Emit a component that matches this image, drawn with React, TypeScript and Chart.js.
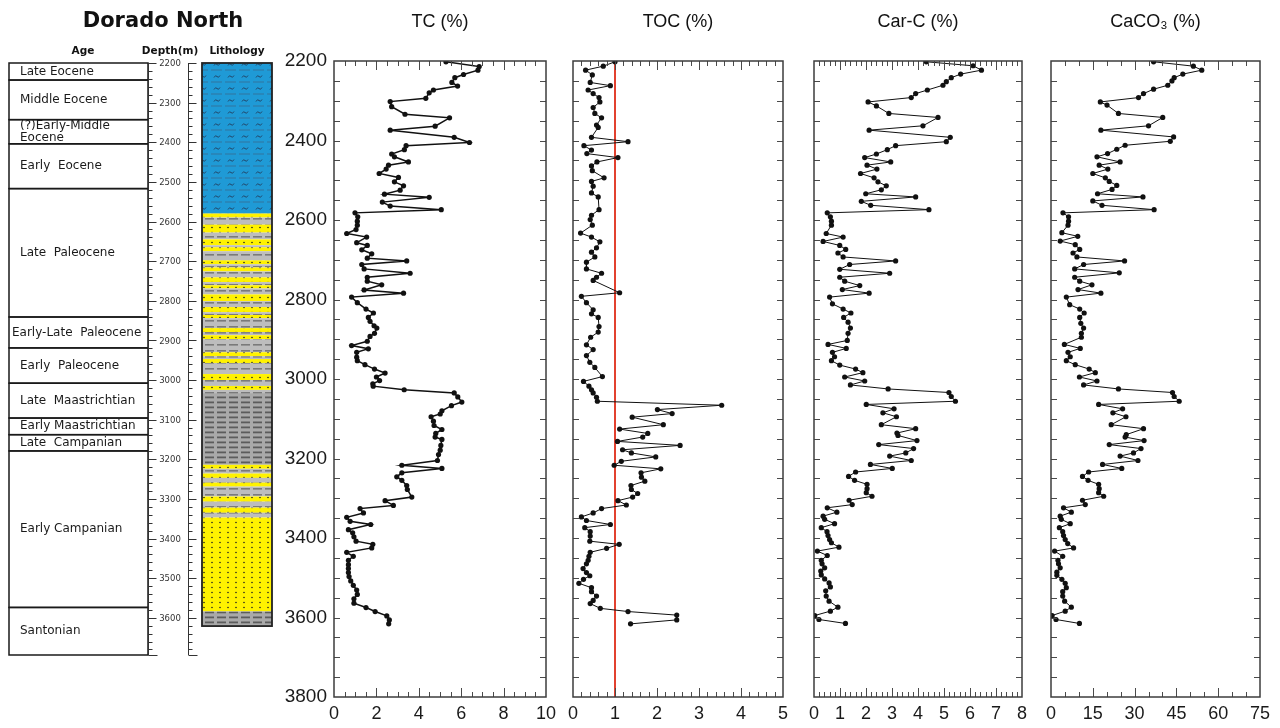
import React, { useEffect, useRef } from 'react';
import { Chart, registerables } from 'chart.js';
Chart.register(...registerables);

const SANS = "'Liberation Sans', Arial, sans-serif";
const DJ = "'DejaVu Sans', sans-serif";
const H = 728;
const DEPTH_MIN = 2200;
const DEPTH_MAX = 3800;

// ---------- stratigraphic column ----------
const ageNames = ['Late Eocene', 'Middle Eocene', '(?)Early-Middle\nEocene', 'Early  Eocene', 'Late  Paleocene', 'Early-Late  Paleocene', 'Early  Paleocene', 'Late  Maastrichtian', 'Early Maastrichtian', 'Late  Campanian', 'Early Campanian', 'Santonian'];
const ageTops = [2200, 2243, 2343, 2404, 2517, 2841, 2919, 3008, 3096, 3138, 3179, 3574];
const ageBases = [2243, 2343, 2404, 2517, 2841, 2919, 3008, 3096, 3138, 3179, 3574, 3694];
const columnDepthLabels = [2200, 2300, 2400, 2500, 2600, 2700, 2800, 2900, 3000, 3100, 3200, 3300, 3400, 3500, 3600];

const lithTops = [2200, 2580, 2590, 2608, 2628, 2645, 2660, 2665, 2675, 2698, 2708, 2716, 2726, 2741, 2753, 2761, 2769, 2784, 2801, 2816, 2829, 2836, 2844, 2869, 2879, 2887, 2897, 2930, 2940, 2947, 2957, 2985, 3000, 3015, 3025, 3033, 3214, 3224, 3236, 3247, 3259, 3269, 3294, 3307, 3322, 3335, 3347, 3584];
const lithBases = [2580, 2590, 2608, 2628, 2645, 2660, 2665, 2675, 2698, 2708, 2716, 2726, 2741, 2753, 2761, 2769, 2784, 2801, 2816, 2829, 2836, 2844, 2869, 2879, 2887, 2897, 2930, 2940, 2947, 2957, 2985, 3000, 3015, 3025, 3033, 3214, 3224, 3236, 3247, 3259, 3269, 3294, 3307, 3322, 3335, 3347, 3584, 3621];
const lithTypes = ['marl', 'sand', 'shale', 'sand', 'shale', 'sand', 'shale', 'sand', 'shale', 'sand', 'shale', 'sand', 'shale', 'sand', 'shale', 'sand', 'shale', 'sand', 'shale', 'sand', 'shale', 'sand', 'shale', 'sand', 'shale', 'sand', 'shale', 'sand', 'shale', 'sand', 'shale', 'sand', 'shale', 'sand', 'shale', 'clay', 'sand', 'shale', 'sand', 'shale', 'sand', 'shale', 'sand', 'shale', 'sand', 'shale', 'sand', 'clay'];

// ---------- panel data ----------
const depthTickLabels = [2200, 2400, 2600, 2800, 3000, 3200, 3400, 3600, 3800];

const tcDepths = [2202, 2214, 2223, 2234, 2242, 2254, 2263, 2273, 2280, 2294, 2302, 2315, 2334, 2343, 2364, 2374, 2392, 2405, 2413, 2423, 2434, 2441, 2454, 2462, 2472, 2483, 2493, 2504, 2514, 2525, 2535, 2543, 2555, 2565, 2574, 2582, 2592, 2603, 2613, 2624, 2634, 2643, 2657, 2664, 2675, 2685, 2696, 2703, 2712, 2723, 2734, 2744, 2754, 2763, 2776, 2784, 2794, 2808, 2824, 2834, 2845, 2855, 2866, 2872, 2885, 2893, 2905, 2916, 2924, 2933, 2945, 2954, 2964, 2975, 2985, 2995, 3004, 3012, 3018, 3027, 3035, 3045, 3058, 3067, 3080, 3088, 3095, 3106, 3117, 3127, 3137, 3146, 3152, 3167, 3179, 3190, 3205, 3217, 3225, 3236, 3246, 3255, 3268, 3278, 3297, 3306, 3318, 3326, 3337, 3348, 3358, 3366, 3379, 3387, 3397, 3408, 3416, 3425, 3436, 3446, 3456, 3467, 3477, 3487, 3497, 3508, 3519, 3531, 3542, 3553, 3564, 3575, 3585, 3596, 3606, 3616];
const tcValues = [5.28, 6.85, 6.79, 6.11, 5.7, 5.56, 5.83, 4.69, 4.49, 4.33, 2.65, 2.72, 3.35, 5.45, 4.77, 2.65, 5.67, 6.39, 3.4, 3.32, 2.72, 2.85, 3.51, 2.57, 2.46, 2.13, 3.04, 2.85, 3.28, 3.12, 2.38, 4.49, 2.28, 2.65, 5.06, 0.99, 1.12, 1.1, 1.1, 1.04, 0.6, 1.54, 1.07, 1.57, 1.31, 1.78, 1.57, 3.43, 1.31, 1.42, 3.59, 1.57, 1.57, 2.25, 1.42, 3.28, 0.83, 1.1, 1.51, 1.86, 1.62, 1.7, 1.89, 2.02, 1.91, 1.7, 1.57, 0.83, 1.62, 1.07, 1.07, 1.1, 1.46, 1.91, 2.41, 2.0, 2.15, 1.83, 1.85, 3.31, 5.67, 5.84, 6.03, 5.54, 5.09, 5.01, 4.58, 4.69, 4.72, 5.09, 4.8, 4.77, 5.09, 5.04, 5.01, 4.93, 4.88, 3.2, 5.09, 3.2, 2.96, 3.2, 3.43, 3.46, 3.67, 2.41, 2.8, 1.23, 1.39, 0.6, 0.76, 1.73, 0.68, 0.88, 0.94, 1.04, 1.83, 1.78, 0.6, 0.91, 0.68, 0.68, 0.68, 0.68, 0.71, 0.79, 0.91, 1.07, 1.1, 0.94, 0.94, 1.51, 1.94, 2.49, 2.61, 2.58];

const tocDepths = [2202, 2213, 2223, 2235, 2254, 2262, 2273, 2282, 2292, 2303, 2317, 2332, 2343, 2361, 2367, 2392, 2403, 2413, 2424, 2433, 2443, 2454, 2464, 2476, 2494, 2503, 2515, 2532, 2542, 2574, 2588, 2599, 2613, 2633, 2643, 2655, 2670, 2681, 2693, 2706, 2723, 2734, 2744, 2752, 2783, 2792, 2808, 2826, 2836, 2845, 2868, 2882, 2895, 2914, 2926, 2941, 2958, 2971, 2994, 3006, 3018, 3027, 3035, 3046, 3056, 3066, 3077, 3087, 3096, 3115, 3126, 3137, 3146, 3157, 3167, 3178, 3186, 3196, 3207, 3217, 3226, 3236, 3247, 3257, 3268, 3278, 3288, 3297, 3306, 3317, 3326, 3337, 3347, 3356, 3366, 3374, 3384, 3395, 3408, 3416, 3426, 3436, 3446, 3456, 3465, 3477, 3487, 3495, 3504, 3514, 3525, 3535, 3546, 3557, 3565, 3577, 3585, 3594, 3606, 3616];
const tocValues = [1.0, 0.72, 0.3, 0.46, 0.41, 0.89, 0.36, 0.48, 0.62, 0.64, 0.48, 0.52, 0.68, 0.56, 0.6, 0.44, 1.31, 0.26, 0.44, 0.33, 1.07, 0.57, 0.44, 0.46, 0.74, 0.44, 0.48, 0.44, 0.6, 0.62, 0.44, 0.41, 0.46, 0.18, 0.44, 0.64, 0.56, 0.44, 0.52, 0.32, 0.32, 0.68, 0.56, 0.48, 1.11, 0.2, 0.32, 0.48, 0.44, 0.6, 0.62, 0.6, 0.42, 0.32, 0.48, 0.32, 0.4, 0.52, 0.7, 0.25, 0.38, 0.44, 0.48, 0.56, 0.58, 3.54, 2.01, 2.36, 1.41, 2.15, 1.11, 1.78, 1.66, 1.06, 2.55, 1.18, 1.39, 1.97, 1.15, 0.98, 2.09, 1.62, 1.63, 1.71, 1.38, 1.39, 1.54, 1.42, 1.07, 1.27, 0.68, 0.48, 0.2, 0.32, 0.89, 0.28, 0.41, 0.41, 0.4, 1.1, 0.8, 0.41, 0.38, 0.36, 0.32, 0.24, 0.32, 0.4, 0.25, 0.14, 0.44, 0.44, 0.56, 0.48, 0.41, 0.65, 1.31, 2.47, 2.47, 1.37];
const tocReference = [1, 1];

const carcDepths = [2202, 2212, 2223, 2233, 2242, 2252, 2261, 2273, 2282, 2292, 2303, 2313, 2332, 2342, 2363, 2374, 2392, 2403, 2413, 2423, 2434, 2443, 2454, 2462, 2472, 2483, 2494, 2504, 2514, 2524, 2534, 2542, 2553, 2563, 2574, 2582, 2592, 2603, 2613, 2634, 2643, 2654, 2664, 2674, 2683, 2693, 2703, 2712, 2724, 2734, 2744, 2754, 2765, 2775, 2784, 2794, 2811, 2824, 2834, 2845, 2857, 2872, 2885, 2903, 2913, 2923, 2933, 2944, 2954, 2965, 2975, 2984, 2995, 3005, 3015, 3025, 3034, 3044, 3056, 3064, 3075, 3085, 3095, 3115, 3125, 3136, 3142, 3155, 3165, 3175, 3186, 3194, 3205, 3215, 3225, 3234, 3245, 3255, 3265, 3276, 3286, 3295, 3305, 3316, 3324, 3335, 3345, 3353, 3364, 3374, 3384, 3394, 3404, 3412, 3423, 3433, 3444, 3456, 3465, 3475, 3483, 3493, 3503, 3513, 3523, 3533, 3546, 3559, 3574, 3584, 3595, 3605, 3615];
const carcValues = [4.32, 6.12, 6.44, 5.64, 5.28, 5.09, 4.96, 4.36, 3.91, 3.74, 2.08, 2.4, 2.88, 4.77, 4.19, 2.12, 5.24, 5.09, 3.14, 2.82, 2.4, 1.95, 2.95, 2.04, 2.42, 1.79, 2.31, 2.46, 2.78, 2.59, 1.99, 3.91, 1.82, 2.18, 4.42, 0.51, 0.63, 0.67, 0.67, 0.47, 1.12, 0.35, 0.99, 1.22, 0.92, 1.12, 3.14, 1.37, 0.99, 2.91, 0.99, 1.18, 1.76, 1.09, 2.12, 0.6, 0.71, 1.12, 1.42, 1.14, 1.31, 1.4, 1.31, 1.28, 0.54, 1.24, 0.71, 0.79, 0.67, 0.99, 1.6, 1.88, 1.18, 1.95, 1.4, 2.85, 5.19, 5.28, 5.44, 2.01, 3.08, 2.65, 3.17, 2.59, 3.91, 3.19, 3.23, 3.96, 2.49, 3.83, 3.53, 2.91, 3.74, 2.17, 3.01, 1.6, 1.33, 1.56, 2.04, 2.04, 2.01, 2.23, 1.35, 1.47, 0.51, 0.88, 0.35, 0.41, 0.79, 0.28, 0.5, 0.54, 0.6, 0.67, 0.96, 0.13, 0.51, 0.28, 0.31, 0.41, 0.26, 0.28, 0.41, 0.58, 0.63, 0.45, 0.47, 0.58, 0.92, 0.63, 0.03, 0.19, 1.21];

const caco3Depths = [2202, 2213, 2223, 2233, 2242, 2250, 2261, 2271, 2282, 2292, 2303, 2311, 2332, 2342, 2363, 2374, 2391, 2402, 2412, 2422, 2433, 2441, 2454, 2462, 2472, 2483, 2494, 2503, 2513, 2523, 2534, 2542, 2552, 2563, 2574, 2582, 2592, 2603, 2613, 2632, 2641, 2653, 2662, 2674, 2683, 2693, 2703, 2712, 2723, 2733, 2744, 2754, 2763, 2775, 2784, 2794, 2813, 2824, 2834, 2845, 2860, 2872, 2885, 2895, 2913, 2923, 2933, 2944, 2954, 2964, 2975, 2984, 2995, 3005, 3015, 3025, 3034, 3044, 3056, 3064, 3075, 3085, 3095, 3115, 3125, 3140, 3146, 3155, 3165, 3175, 3186, 3194, 3205, 3215, 3225, 3234, 3245, 3255, 3265, 3276, 3286, 3295, 3305, 3316, 3324, 3335, 3345, 3353, 3364, 3374, 3384, 3394, 3404, 3414, 3425, 3433, 3446, 3456, 3465, 3475, 3486, 3494, 3504, 3514, 3525, 3535, 3546, 3559, 3574, 3584, 3595, 3605, 3615];
const caco3Values = [36.8, 51.1, 54.1, 47.3, 44.2, 43.4, 41.9, 36.8, 33.2, 31.4, 17.7, 20.1, 24.2, 40.1, 35.0, 17.9, 44.0, 42.8, 26.6, 23.6, 20.3, 16.5, 24.8, 17.3, 20.4, 15.0, 19.5, 20.9, 23.6, 21.9, 16.7, 33.0, 15.0, 18.3, 37.0, 4.3, 6.3, 6.3, 6.1, 3.9, 9.6, 3.3, 8.7, 10.3, 7.9, 9.3, 26.4, 11.7, 8.5, 24.5, 8.5, 10.3, 14.7, 9.7, 17.9, 5.5, 6.7, 10.3, 11.9, 10.3, 10.7, 11.7, 10.9, 10.9, 4.8, 10.5, 6.1, 6.9, 5.5, 8.7, 13.7, 15.9, 10.2, 16.5, 11.7, 24.2, 43.6, 44.2, 46.0, 17.1, 25.7, 22.2, 26.9, 21.6, 33.2, 27.0, 26.6, 33.4, 20.9, 32.3, 29.6, 24.8, 31.2, 18.5, 25.4, 13.5, 11.3, 13.3, 17.1, 17.3, 17.1, 18.9, 11.3, 12.3, 4.5, 7.3, 3.3, 3.7, 6.9, 3.0, 4.2, 4.5, 5.1, 6.0, 8.1, 1.3, 4.2, 2.5, 2.7, 3.3, 2.1, 2.1, 3.9, 5.1, 5.5, 4.2, 4.2, 4.9, 7.3, 5.1, 0.4, 1.8, 10.2];

const tcXLabels = [0, 2, 4, 6, 8, 10];
const tocXLabels = [0, 1, 2, 3, 4, 5];
const carcXLabels = [0, 1, 2, 3, 4, 5, 6, 7, 8];
const caco3XLabels = [0, 15, 30, 45, 60, 75];

// ---------- layout ----------
const PLOT_TOP = 61;
const PLOT_BOTTOM = 697;

type Panel = {
  key: string; title: string; depths: number[]; values: number[];
  xMax: number; xStep: number; xLabels: number[];
  left: number; right: number; showDepth: boolean; lineWidth: number; refX?: number[];
};

const panels: Panel[] = [
  { key: 'tc', title: 'TC (%)', depths: tcDepths, values: tcValues, xMax: 10, xStep: 0.5, xLabels: tcXLabels, left: 334, right: 546, showDepth: true, lineWidth: 1.5 },
  { key: 'toc', title: 'TOC (%)', depths: tocDepths, values: tocValues, xMax: 5, xStep: 0.2, xLabels: tocXLabels, left: 573, right: 783, showDepth: false, lineWidth: 1, refX: tocReference },
  { key: 'carc', title: 'Car-C (%)', depths: carcDepths, values: carcValues, xMax: 8, xStep: 0.2, xLabels: carcXLabels, left: 814, right: 1022, showDepth: false, lineWidth: 1 },
  { key: 'caco3', title: 'CaCO\u2083 (%)', depths: caco3Depths, values: caco3Values, xMax: 75, xStep: 5, xLabels: caco3XLabels, left: 1051, right: 1260, showDepth: false, lineWidth: 1 },
];

const near = (list: number[], v: number) => list.find((m) => Math.abs(m - v) < 1e-6);

function panelGeom(p: Panel) {
  const yAxisW = p.showDepth ? 60 : 10;
  const padL = p.showDepth ? 4 : 10;
  const padR = 20;
  const canvasLeft = p.left - yAxisW - padL;
  const width = p.right + padR - canvasLeft;
  return { yAxisW, padL, padR, canvasLeft, width };
}

const makeFramePlugin = (majors: number[]) => ({
  id: 'frame',
  afterDraw(chart: any) {
    const { ctx, chartArea: a, scales } = chart;
    const xs = scales.x;
    const ys = scales.y;
    ctx.save();
    ctx.strokeStyle = '#4a4a4a';
    ctx.lineWidth = 1;
    ctx.beginPath();
    for (const t of ys.ticks) {
      if (t.value <= DEPTH_MIN || t.value >= DEPTH_MAX) continue;
      const py = Math.round(ys.getPixelForValue(t.value)) + 0.5;
      ctx.moveTo(a.left, py); ctx.lineTo(a.left + 6, py);
      ctx.moveTo(a.right, py); ctx.lineTo(a.right - 6, py);
    }
    for (const t of xs.ticks) {
      const v = t.value;
      if (v <= xs.min + 1e-9 || v >= xs.max - 1e-9) continue;
      const px = Math.round(xs.getPixelForValue(v)) + 0.5;
      const len = near(majors, v) !== undefined ? 9 : 5;
      ctx.moveTo(px, a.bottom); ctx.lineTo(px, a.bottom - len);
      ctx.moveTo(px, a.top); ctx.lineTo(px, a.top + len);
    }
    ctx.stroke();
    ctx.lineWidth = 1.5;
    ctx.strokeStyle = '#3c3c3c';
    ctx.strokeRect(a.left, a.top, a.right - a.left, a.bottom - a.top);
    ctx.restore();
  },
});

function panelConfig(p: Panel): any {
  const g = panelGeom(p);
  const datasets: any[] = [
    {
      data: p.depths.map((d, i) => ({ x: p.values[i], y: d })),
      showLine: true,
      borderColor: '#111',
      backgroundColor: '#111',
      borderWidth: p.lineWidth,
      pointRadius: 2.6,
      pointHoverRadius: 2.6,
      pointBorderWidth: 0,
      tension: 0,
    },
  ];
  if (p.refX) {
    datasets.push({
      data: [{ x: p.refX[0], y: DEPTH_MIN }, { x: p.refX[1], y: DEPTH_MAX }],
      showLine: true,
      borderColor: '#e2412f',
      borderWidth: 2,
      pointRadius: 0,
      pointHoverRadius: 0,
    });
  }
  const titleSize = 18;
  const titleTop = 11;
  return {
    type: 'scatter',
    data: { datasets },
    options: {
      animation: false,
      responsive: false,
      maintainAspectRatio: false,
      devicePixelRatio: 1,
      events: [],
      layout: { padding: { left: g.padL, right: g.padR, top: 0, bottom: 0 } },
      plugins: {
        legend: { display: false },
        tooltip: { enabled: false },
        title: {
          display: true,
          text: p.title,
          fullSize: false,
          color: '#111',
          font: { family: SANS, size: titleSize, weight: 'normal', lineHeight: 1.2 },
          padding: { top: titleTop, bottom: PLOT_TOP - titleTop - titleSize * 1.2 },
        },
      },
      scales: {
        x: {
          type: 'linear',
          position: 'bottom',
          min: 0,
          max: p.xMax,
          grid: { display: false, drawTicks: false },
          border: { display: false },
          ticks: {
            stepSize: p.xStep,
            autoSkip: false,
            maxRotation: 0,
            minRotation: 0,
            padding: 6,
            color: '#1a1a1a',
            font: { family: SANS, size: 18 },
            callback: (v: number) => {
              const m = near(p.xLabels, v);
              return m !== undefined ? String(m) : '';
            },
          },
          afterFit: (s: any) => { s.height = H - PLOT_BOTTOM; },
        },
        y: {
          type: 'linear',
          position: 'left',
          reverse: true,
          min: DEPTH_MIN,
          max: DEPTH_MAX,
          grid: { display: false, drawTicks: false },
          border: { display: false },
          ticks: {
            display: p.showDepth,
            stepSize: 50,
            autoSkip: false,
            padding: 7,
            color: '#1a1a1a',
            font: { family: SANS, size: 19 },
            callback: (v: number) => {
              const m = near(depthTickLabels, v);
              return m !== undefined ? String(m) : '';
            },
          },
          afterFit: (s: any) => { s.width = g.yAxisW; },
        },
      },
    },
    plugins: [makeFramePlugin(p.xLabels)],
  };
}

// ---------- strat column chart ----------
function makePatterns(ctx: CanvasRenderingContext2D) {
  const mk = (w: number, h: number, draw: (g: CanvasRenderingContext2D) => void) => {
    const c = document.createElement('canvas');
    c.width = w; c.height = h;
    const g = c.getContext('2d')!;
    draw(g);
    return ctx.createPattern(c, 'repeat');
  };
  return {
    marl: mk(14, 12, (g) => {
      g.fillStyle = '#1f9ad6'; g.fillRect(0, 0, 14, 12);
      g.strokeStyle = '#233f60'; g.lineWidth = 0.9;
      g.beginPath(); g.moveTo(4, 5.5); g.quadraticCurveTo(5.5, 2.5, 7, 4.5); g.quadraticCurveTo(8.5, 6.5, 10, 3.5); g.stroke();
      g.fillStyle = 'rgba(70,70,90,0.45)'; g.fillRect(1, 9.5, 11, 1);
    }),
    sand: mk(8, 5, (g) => {
      g.fillStyle = '#fff200'; g.fillRect(0, 0, 8, 5);
      g.fillStyle = '#222'; g.beginPath(); g.arc(4, 2.5, 0.8, 0, Math.PI * 2); g.fill();
    }),
    shale: mk(12, 6, (g) => {
      g.fillStyle = '#bdbdbd'; g.fillRect(0, 0, 12, 6);
      g.fillStyle = '#7a7a7a'; g.fillRect(1, 2, 9, 1.6);
    }),
    clay: mk(12, 5, (g) => {
      g.fillStyle = '#a9a9a9'; g.fillRect(0, 0, 12, 5);
      g.fillStyle = '#5c5c5c'; g.fillRect(1, 1.5, 9, 1.8);
    }),
  } as Record<string, CanvasPattern | null>;
}

const stratPlugin = {
  id: 'strat',
  afterDraw(chart: any) {
    const { ctx, scales } = chart;
    const X = (v: number) => scales.x.getPixelForValue(v);
    const Y = (d: number) => scales.y.getPixelForValue(d);
    if (!chart.$patterns) chart.$patterns = makePatterns(ctx);
    const pats = chart.$patterns;
    ctx.save();

    // headers
    ctx.fillStyle = '#111';
    ctx.textAlign = 'center';
    ctx.textBaseline = 'middle';
    ctx.font = `bold 21px ${DJ}`;
    ctx.fillText('Dorado North', X(163), 22);
    ctx.font = `bold 10.5px ${DJ}`;
    ctx.fillText('Age', X(83), 51);
    ctx.fillText('Depth(m)', X(170), 51);
    ctx.fillText('Lithology', X(237), 51);

    // age table
    ctx.strokeStyle = '#1a1a1a';
    ctx.lineWidth = 1.5;
    ctx.font = `12px ${DJ}`;
    ctx.textAlign = 'left';
    for (let i = 0; i < ageNames.length; i++) {
      const y0 = Y(ageTops[i]);
      const y1 = Y(ageBases[i]);
      ctx.strokeRect(X(9), y0, X(148) - X(9), y1 - y0);
      const lines = ageNames[i].split('\n');
      const mid = (y0 + y1) / 2;
      lines.forEach((ln, k) => {
        const w = ctx.measureText(ln).width;
        const lx = w > 125 ? X(12) : X(20);
        ctx.fillStyle = '#1a1a1a';
        ctx.fillText(ln, lx, mid + (k - (lines.length - 1) / 2) * 12.5);
      });
    }

    // depth axes
    const depthEnd = ageBases[ageBases.length - 1];
    ctx.strokeStyle = '#333';
    ctx.lineWidth = 1;
    ctx.beginPath();
    for (const ax of [148, 188]) {
      const px = Math.round(X(ax)) + 0.5;
      ctx.moveTo(px, Y(DEPTH_MIN)); ctx.lineTo(px, Y(depthEnd));
      for (let d = DEPTH_MIN; d <= depthEnd; d += 20) {
        const py = Math.round(Y(d)) + 0.5;
        const len = d % 100 === 0 ? 8 : 4;
        ctx.moveTo(px, py); ctx.lineTo(px + len, py);
      }
      const pe = Math.round(Y(depthEnd)) + 0.5;
      ctx.moveTo(px, pe); ctx.lineTo(px + 9, pe);
    }
    ctx.stroke();
    ctx.fillStyle = '#333';
    ctx.textAlign = 'center';
    ctx.font = `8.5px ${DJ}`;
    for (const d of columnDepthLabels) ctx.fillText(String(d), X(170), Y(d) + 1);

    // lithology
    const lx0 = X(202);
    const lx1 = X(272);
    for (let i = 0; i < lithTypes.length; i++) {
      const y0 = Y(lithTops[i]);
      const y1 = Y(lithBases[i]);
      ctx.fillStyle = pats[lithTypes[i]] || '#ccc';
      ctx.fillRect(lx0, y0, lx1 - lx0, y1 - y0);
    }
    ctx.strokeStyle = '#222';
    ctx.lineWidth = 1.8;
    ctx.strokeRect(lx0, Y(lithTops[0]), lx1 - lx0, Y(lithBases[lithBases.length - 1]) - Y(lithTops[0]));
    ctx.restore();
  },
};

function stratConfig(): any {
  return {
    type: 'scatter',
    data: { datasets: [] },
    options: {
      animation: false,
      responsive: false,
      maintainAspectRatio: false,
      devicePixelRatio: 1,
      events: [],
      layout: { padding: { top: 63, bottom: H - PLOT_BOTTOM, left: 0, right: 0 } },
      plugins: { legend: { display: false }, tooltip: { enabled: false }, title: { display: false } },
      scales: {
        x: { type: 'linear', min: 0, max: 290, display: false },
        y: { type: 'linear', min: DEPTH_MIN, max: DEPTH_MAX, reverse: true, display: false },
      },
    },
    plugins: [stratPlugin],
  };
}

function ChartBox({ left, width, build }: { left: number; width: number; build: () => any }) {
  const ref = useRef<HTMLCanvasElement | null>(null);
  useEffect(() => {
    if (!ref.current) return;
    const chart = new Chart(ref.current, build());
    return () => chart.destroy();
  }, []);
  return (
    <canvas
      ref={ref}
      width={width}
      height={H}
      style={{ position: 'absolute', left, top: 0, width, height: H, display: 'block' }}
    />
  );
}

export default function App() {
  return (
    <div style={{ position: 'fixed', left: 0, top: 0, width: 1280, height: H, background: '#fff', overflow: 'hidden' }}>
      <ChartBox left={0} width={290} build={stratConfig} />
      {panels.map((p) => {
        const g = panelGeom(p);
        return <ChartBox key={p.key} left={g.canvasLeft} width={g.width} build={() => panelConfig(p)} />;
      })}
    </div>
  );
}
